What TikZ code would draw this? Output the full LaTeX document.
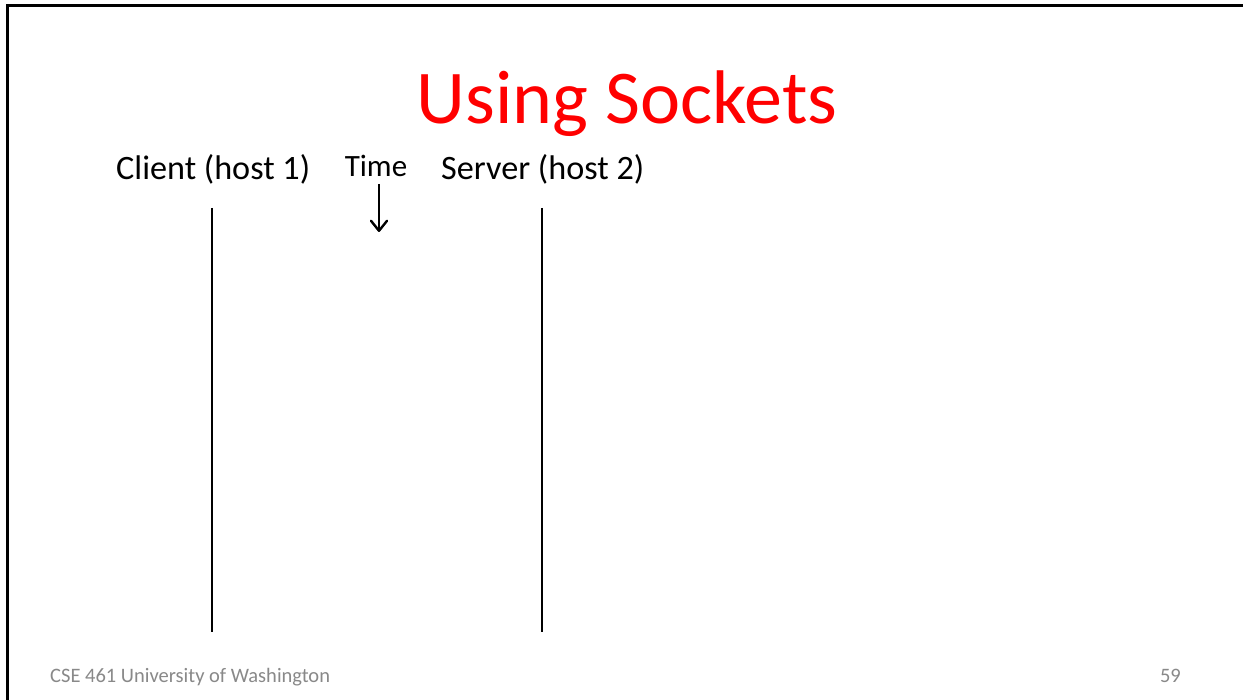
\documentclass[tikz,border=0pt]{standalone}
\usepackage{fontspec}
\setmainfont{Carlito}
\usetikzlibrary{arrows.meta}
\definecolor{titlered}{RGB}{255,0,0}
\definecolor{footgray}{RGB}{137,137,137}
\tikzset{
  lbl/.style={inner sep=0pt, font=\fontsize{34.2}{40}\selectfont},
  foot/.style={inner sep=0pt, text=footgray, font=\fontsize{20.5}{24}\selectfont},
  timeline/.style={line width=1.3pt},
}
\begin{document}
\begin{tikzpicture}[x=1pt,y=-1pt]
\useasboundingbox (0,0) rectangle (1243,700);
\fill[white] (0,0) rectangle (1243,700);
\draw[line width=3pt] (7,700) -- (7,6) -- (1243,6);
\node[inner sep=0pt, text=titlered, font=\fontsize{76}{90}\selectfont, anchor=base] (title) at (627,124) {Using Sockets};
\node[lbl, anchor=base west] (client) at (116,180) {Client (host 1)};
\node[lbl, anchor=base west] (server) at (441,180) {Server (host 2)};
\node[inner sep=0pt, font=\fontsize{31}{36}\selectfont, anchor=base] (time) at (376,177) {Time};
\coordinate (ta) at (379,184);
\coordinate (tb) at (379,232);
\draw[line width=1.3pt, -{Straight Barb[length=10pt,width=16pt,line width=2.4pt,round]}] (ta) -- (tb);
\coordinate (c1) at (212,208);
\coordinate (c2) at (212,632);
\coordinate (s1) at (542,208);
\coordinate (s2) at (542,632);
\draw[timeline] (c1) -- (c2);
\draw[timeline] (s1) -- (s2);
\node[foot, anchor=base west] (course) at (50,682) {CSE 461 University of Washington};
\node[foot, anchor=base east] (page) at (1181,682) {59};
\end{tikzpicture}
\end{document}
